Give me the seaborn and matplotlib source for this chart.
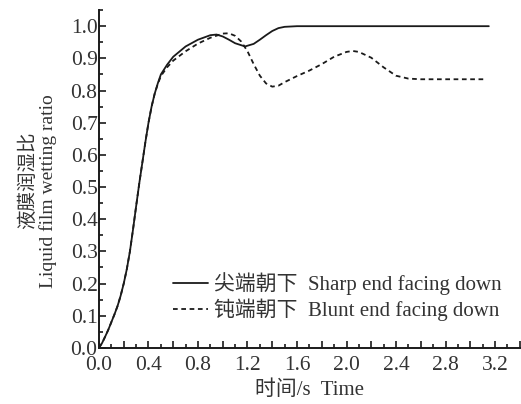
import numpy as np
import pandas as pd
import seaborn as sns
import matplotlib.pyplot as plt

# --- data ---
t_sharp = [0, 0.025, 0.05, 0.075, 0.1, 0.125, 0.15, 0.175, 0.2, 0.225, 0.25, 0.275, 0.3, 0.325,
           0.35, 0.375, 0.4, 0.425, 0.45, 0.475, 0.5, 0.55, 0.6, 0.7,
           0.8, 0.9, 0.95, 1.0, 1.05, 1.1, 1.18, 1.25, 1.3, 1.35, 1.4, 1.45, 1.5, 1.6, 2.4, 3.15]
wet_sharp = [0, 0.015, 0.035, 0.056, 0.08, 0.104, 0.13, 0.162, 0.2, 0.245, 0.3, 0.368, 0.44, 0.51,
             0.575, 0.64, 0.70, 0.75, 0.79, 0.822, 0.85, 0.88, 0.905, 0.937,
             0.958, 0.972, 0.974, 0.968, 0.958, 0.947, 0.937, 0.945, 0.958, 0.972, 0.985, 0.994, 0.998, 1.0, 1.0, 1.0]

t_blunt = [0, 0.025, 0.05, 0.075, 0.1, 0.125, 0.15, 0.175, 0.2, 0.225, 0.25, 0.275, 0.3, 0.325,
           0.35, 0.375, 0.4, 0.425, 0.45, 0.475, 0.5, 0.55, 0.6, 0.7, 0.8,
           0.9, 1.0, 1.05, 1.1, 1.15, 1.2, 1.25, 1.3, 1.35, 1.4, 1.45, 1.5, 1.6, 1.7, 1.8,
           1.9, 2.0, 2.05, 2.1, 2.2, 2.3, 2.4, 2.5, 2.6, 3.13]
wet_blunt = [0, 0.015, 0.035, 0.056, 0.08, 0.104, 0.13, 0.162, 0.2, 0.245, 0.3, 0.368, 0.44, 0.51,
             0.575, 0.64, 0.70, 0.75, 0.79, 0.82, 0.845, 0.872, 0.893, 0.922, 0.946,
             0.964, 0.977, 0.978, 0.97, 0.952, 0.922, 0.882, 0.846, 0.822, 0.812, 0.815, 0.826, 0.845, 0.862, 0.882,
             0.905, 0.92, 0.923, 0.92, 0.902, 0.872, 0.846, 0.837, 0.835, 0.835]

labels = ['尖端朝下  Sharp end facing down', '钝端朝下  Blunt end facing down']
x_ticks = [0.0, 0.2, 0.4, 0.6, 0.8, 1.0, 1.2, 1.4, 1.6, 1.8, 2.0, 2.2, 2.4, 2.6, 2.8, 3.0, 3.2, 3.4]
x_ticklabels = ['0.0', '', '0.4', '', '0.8', '', '1.2', '', '1.6', '', '2.0', '', '2.4', '', '2.8', '', '3.2', '']
y_ticks = [0.0, 0.1, 0.2, 0.3, 0.4, 0.5, 0.6, 0.7, 0.8, 0.9, 1.0]

df = pd.concat([
    pd.DataFrame({'t': t_sharp, 'w': wet_sharp, 'case': labels[0]}),
    pd.DataFrame({'t': t_blunt, 'w': wet_blunt, 'case': labels[1]}),
])

sns.set_style('ticks')
plt.rcParams['font.family'] = ['Liberation Serif', 'Noto Sans CJK SC']
plt.rcParams['axes.unicode_minus'] = False

fig = plt.figure(figsize=(5.21, 4.04), dpi=100)
ax = fig.add_axes([0.19, 0.139, 0.81, 0.836])

sns.lineplot(data=df, x='t', y='w', hue='case', style='case',
             palette={labels[0]: '#1a1a1a', labels[1]: '#1a1a1a'},
             dashes={labels[0]: '', labels[1]: (2.6, 2.0)},
             linewidth=1.3, sort=False, estimator=None, ax=ax)

ax.set_xlim(0, 3.41)
ax.set_ylim(0, 1.05)
ax.set_xticks(x_ticks)
ax.set_xticklabels(x_ticklabels)
ax.set_xticks(np.arange(0.1, 3.41, 0.2), minor=True)
ax.set_yticks(y_ticks)
ax.set_yticklabels([f'{v:.1f}' for v in y_ticks])
ax.set_yticks(np.arange(0.05, 1.06, 0.1), minor=True)

ax.tick_params(axis='both', which='both', direction='in', labelsize=15.5, color='#1a1a1a', labelcolor='#333333')
ax.tick_params(axis='both', which='major', length=5, width=1.2)
ax.tick_params(axis='x', which='major', pad=6)
ax.tick_params(axis='y', which='major', pad=1)
ax.tick_params(axis='both', which='minor', length=3, width=1.2)
for s in ['top', 'right']:
    ax.spines[s].set_visible(False)
for s in ['left', 'bottom']:
    ax.spines[s].set_linewidth(1.4)
    ax.spines[s].set_color('#1a1a1a')

ax.set_xlabel('')
ax.set_ylabel('')
fig.text(0.595, 0.033, '时间/s  Time', ha='center', va='center', fontsize=15, color='#333333')
fig.text(0.053, 0.555, '液膜润湿比', ha='center', va='center', rotation=90, fontsize=14, color='#333333')
fig.text(0.092, 0.527, 'Liquid film wetting ratio', ha='center', va='center', rotation=90, fontsize=14, color='#333333')

leg = ax.legend(loc='lower left', bbox_to_anchor=(0.155, 0.055), frameon=False, fontsize=15,
                handlelength=1.7, handletextpad=0.3, labelspacing=0.15, borderaxespad=0)
for txt in leg.get_texts():
    txt.set_color('#333333')

fig.savefig('out.png', dpi=100)
